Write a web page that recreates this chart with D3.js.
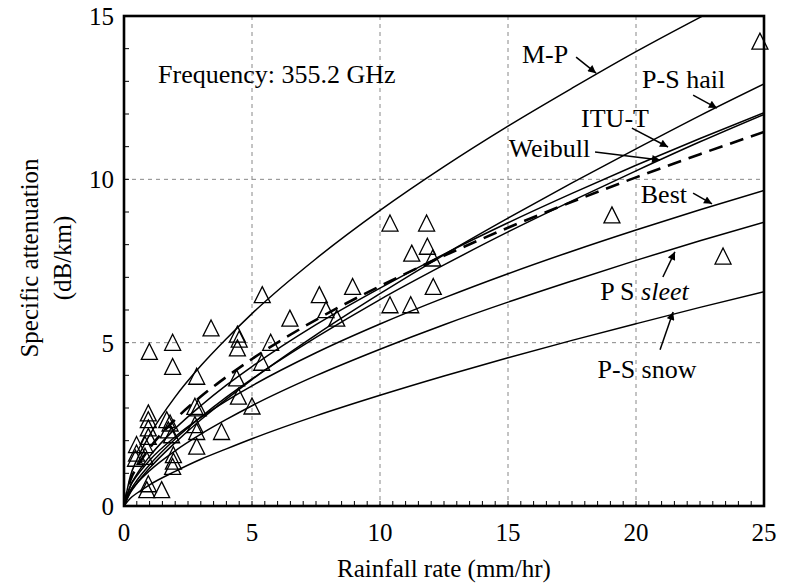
<!DOCTYPE html>
<html><head><meta charset="UTF-8">
<style type="text/css">
body { margin: 0; background: #fff; }
text { font-family: "Liberation Serif", "Times New Roman", serif; fill: #000; }
.grid line { stroke: #888; stroke-width: 1; stroke-dasharray: 4,4; }
.curve { fill: none; stroke: #000; stroke-width: 1.5; }
.curve.dashed { stroke-width: 2.6; stroke-dasharray: 14,8; }
.tri { fill: none; stroke: #000; stroke-width: 1.3; }
.frame { fill: none; stroke: #000; stroke-width: 2.6; }
.minor { stroke: #000; stroke-width: 1; }
.arrow { stroke: #000; stroke-width: 1.5; fill: none; }
</style>
<script src="https://cdn.jsdelivr.net/npm/d3@7"></script>
</head><body>
<div id="chart"></div>
<script>
var rainGrid = [0, 0.25, 0.5, 1, 2, 3, 4, 5, 7.5, 10, 12.5, 15, 17.5, 20, 22.5, 25];

// specific attenuation of each model curve (dB/km) at rainGrid
var mpVals      = [0, 0.92, 1.41, 2.17, 3.34, 4.29, 5.12, 5.89, 7.57, 9.05, 10.39, 11.63, 12.79, 13.91, 14.96, 15.97];
var hailVals    = [0, 0.41, 0.69, 1.16, 1.94, 2.64, 3.27, 3.87, 5.24, 6.50, 7.69, 8.81, 9.89, 10.93, 11.95, 12.92];
var ituVals     = [0, 0.62, 0.97, 1.52, 2.37, 3.07, 3.70, 4.27, 5.55, 6.67, 7.71, 8.67, 9.57, 10.43, 11.25, 12.04];
var weibullVals = [0, 0.48, 0.78, 1.26, 2.05, 2.72, 3.33, 3.89, 5.16, 6.32, 7.38, 8.39, 9.34, 10.26, 11.15, 11.99];
var dashVals    = [0, 0.79, 1.18, 1.77, 2.65, 3.35, 3.95, 4.50, 5.70, 6.73, 7.66, 8.52, 9.31, 10.06, 10.77, 11.45];
var bestVals    = [0, 0.61, 0.92, 1.40, 2.12, 2.71, 3.22, 3.68, 4.69, 5.57, 6.37, 7.11, 7.80, 8.45, 9.07, 9.66];
var sleetVals   = [0, 0.44, 0.69, 1.08, 1.69, 2.20, 2.65, 3.07, 3.99, 4.80, 5.55, 6.24, 6.89, 7.52, 8.12, 8.69];
var snowVals    = [0, 0.24, 0.39, 0.65, 1.06, 1.43, 1.75, 2.06, 2.76, 3.39, 3.98, 4.54, 5.07, 5.58, 6.08, 6.56];

// measured points (triangles)
var measRain = [0.49, 0.49, 0.45, 0.82, 0.82, 0.95, 0.95, 0.95, 0.95, 0.99, 0.89, 0.95, 1.47,
                1.67, 1.80, 1.73, 1.86, 1.93, 1.93, 1.90, 1.90, 1.90,
                2.77, 2.84, 2.84, 2.84, 2.77, 2.90, 3.40, 3.81,
                4.43, 4.50, 4.43, 4.40, 4.47, 5.00, 5.40, 5.73, 5.38,
                6.48, 7.63, 7.89, 8.31, 8.93,
                10.39, 11.82, 11.24, 11.85, 12.06, 12.08, 10.39, 11.20,
                19.06, 23.40, 24.84];
var measAtt  = [1.82, 1.56, 1.40, 1.82, 1.46, 2.79, 2.58, 2.33, 2.07, 4.67, 0.44, 0.62, 0.44,
                2.58, 2.48, 2.27, 2.12, 1.51, 1.31, 1.15, 4.95, 4.21,
                2.99, 3.91, 2.22, 1.77, 2.43, 2.94, 5.39, 2.22,
                5.20, 5.05, 4.78, 3.86, 3.30, 3.00, 6.41, 4.95, 4.34,
                5.69, 6.41, 5.95, 5.69, 6.66,
                8.60, 8.60, 7.68, 7.89, 7.53, 6.66, 6.10, 6.10,
                8.85, 7.59, 14.17];

var xTicks = [0, 5, 10, 15, 20, 25];
var yTicks = [0, 5, 10, 15];

var curves = [
  {name: "M-P", vals: mpVals},
  {name: "P-S hail", vals: hailVals},
  {name: "ITU-T", vals: ituVals},
  {name: "Weibull", vals: weibullVals},
  {name: "fit", vals: dashVals, dashed: true},
  {name: "Best", vals: bestVals},
  {name: "P-S sleet", vals: sleetVals},
  {name: "P-S snow", vals: snowVals}
];

// label text spot and arrow (tail -> head), all in data units
var notes = [
  {text: "M-P",      tx: 16.45, ty: 13.56, a: [17.66, 13.74, 18.44, 13.25]},
  {text: "P-S hail", tx: 21.86, ty: 12.80, a: [22.23, 12.58, 23.16, 12.18]},
  {text: "ITU-T",    tx: 19.18, ty: 11.60, a: [19.84, 11.57, 21.25, 10.99]},
  {text: "Weibull",  tx: 16.62, ty: 10.68, a: [18.40, 10.84, 20.94, 10.59]},
  {text: "Best",     tx: 21.09, ty: 9.28,  a: [22.23, 9.58, 22.97, 9.25]},
  {text: "P S ",     tx: 20.33, ty: 6.31,  a: [21.05, 7.01, 21.52, 7.78], italic: "sleet"},
  {text: "P-S snow", tx: 20.43, ty: 3.92,  a: [20.94, 4.78, 21.45, 5.94]}
];

var W = 786, H = 585;
var pLeft = 124, pRight = 764, pTop = 16, pBottom = 506;

var x = d3.scaleLinear().domain([0, 25]).range([pLeft, pRight]);
var y = d3.scaleLinear().domain([0, 15]).range([pBottom, pTop]);

var svg = d3.select("#chart").append("svg")
    .attr("width", W).attr("height", H);

var defs = svg.append("defs");
defs.append("clipPath").attr("id", "plotclip")
  .append("rect").attr("x", pLeft).attr("y", pTop)
  .attr("width", pRight - pLeft).attr("height", pBottom - pTop);

var marker = defs.append("marker")
    .attr("id", "head").attr("viewBox", "0 0 10 10")
    .attr("refX", 10).attr("refY", 5)
    .attr("markerWidth", 10).attr("markerHeight", 8)
    .attr("markerUnits", "userSpaceOnUse")
    .attr("orient", "auto");
marker.append("path").attr("d", "M0,0 L10,5 L0,10 Z").attr("fill", "#000");

// dashed grid
var grid = svg.append("g").attr("class", "grid");
grid.selectAll(".vg").data(xTicks.slice(1, -1)).enter().append("line")
    .attr("x1", d => x(d)).attr("x2", d => x(d))
    .attr("y1", pTop).attr("y2", pBottom);
grid.selectAll(".hg").data(yTicks.slice(1, -1)).enter().append("line")
    .attr("x1", pLeft).attr("x2", pRight)
    .attr("y1", d => y(d)).attr("y2", d => y(d));

// small inward ticks
svg.append("g").selectAll("line").data(d3.range(0.5, 25, 0.5)).enter().append("line")
    .attr("class", "minor")
    .attr("x1", d => x(d)).attr("x2", d => x(d))
    .attr("y1", pBottom).attr("y2", pBottom - 5);
svg.append("g").selectAll("line").data(d3.range(1, 15, 1)).enter().append("line")
    .attr("class", "minor")
    .attr("x1", pLeft).attr("x2", pLeft + 5)
    .attr("y1", d => y(d)).attr("y2", d => y(d));

// model curves
var line = d3.line()
    .x((d, i) => x(rainGrid[i]))
    .y(d => y(d))
    .curve(d3.curveMonotoneX);

svg.append("g").attr("clip-path", "url(#plotclip)")
  .selectAll("path").data(curves).enter().append("path")
    .attr("class", d => d.dashed ? "curve dashed" : "curve")
    .attr("d", d => line(d.vals));

// triangles
var tri = "M0,-10 L8,6 L-8,6 Z";
svg.append("g").selectAll("path").data(measRain).enter().append("path")
    .attr("class", "tri")
    .attr("d", tri)
    .attr("transform", (d, i) => "translate(" + x(d) + "," + y(measAtt[i]) + ")");

// frame
svg.append("rect").attr("class", "frame")
    .attr("x", pLeft).attr("y", pTop)
    .attr("width", pRight - pLeft).attr("height", pBottom - pTop);

// tick labels
svg.append("g").selectAll("text").data(xTicks).enter().append("text")
    .attr("x", d => x(d)).attr("y", pBottom + 35)
    .attr("text-anchor", "middle").attr("font-size", 25)
    .text(d => d);
svg.append("g").selectAll("text").data(yTicks).enter().append("text")
    .attr("x", pLeft - 10).attr("y", d => y(d) + 9)
    .attr("text-anchor", "end").attr("font-size", 25)
    .text(d => d);

// axis titles
svg.append("text").attr("x", (pLeft + pRight) / 2).attr("y", 577)
    .attr("text-anchor", "middle").attr("font-size", 25)
    .text("Rainfall rate (mm/hr)");
svg.append("text").attr("transform", "translate(38,258) rotate(-90)")
    .attr("text-anchor", "middle").attr("font-size", 25)
    .text("Specific attenuation");
svg.append("text").attr("transform", "translate(71,258) rotate(-90)")
    .attr("text-anchor", "middle").attr("font-size", 25)
    .text("(dB/km)");

// frequency note
svg.append("text").attr("x", x(1.33)).attr("y", y(12.95))
    .attr("font-size", 26)
    .text("Frequency: 355.2 GHz");

// curve labels with arrows
notes.forEach(function(n) {
  var t = svg.append("text").attr("x", x(n.tx)).attr("y", y(n.ty))
      .attr("text-anchor", "middle").attr("font-size", 26)
      .text(n.text);
  if (n.italic) t.append("tspan").attr("font-style", "italic").text(n.italic);
  svg.append("line").attr("class", "arrow")
      .attr("x1", x(n.a[0])).attr("y1", y(n.a[1]))
      .attr("x2", x(n.a[2])).attr("y2", y(n.a[3]))
      .attr("marker-end", "url(#head)");
});
</script>
</body></html>
